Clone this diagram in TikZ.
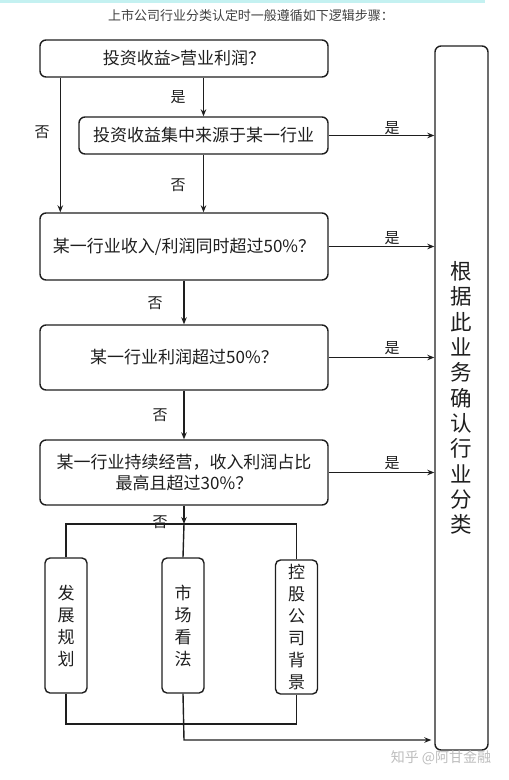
\documentclass[tikz,border=0pt]{standalone}
\usepackage{fontspec}
\setmainfont{Noto Sans CJK SC}
\usetikzlibrary{arrows.meta,positioning}
\definecolor{ink}{HTML}{1E1E1E}
\definecolor{stripe}{HTML}{C4F1F1}
\definecolor{mark}{HTML}{BDBDBD}
\tikzset{
  caption/.style={font=\fontsize{13}{15}\selectfont,text=ink!85},
  stepbox/.style={draw=ink,rounded corners=6pt,line width=1.4pt,font=\fontsize{17}{21}\selectfont,text=ink,align=center,inner sep=0pt},
  resultbox/.style={draw=ink,rounded corners=6pt,line width=1.4pt,font=\fontsize{21.5}{25.3}\selectfont,text=ink,align=center,inner sep=0pt},
  factor/.style={draw=ink,rounded corners=5pt,line width=1.4pt,font=\fontsize{17}{22}\selectfont,text=ink,align=center,inner sep=0pt,minimum width=42pt},
  yesno/.style={font=\fontsize{15}{17}\selectfont,text=ink},
  line/.style={draw=ink,line width=1.4pt},
  arr/.style={-{Stealth[length=7pt,width=5.5pt]},draw=ink,line width=1.4pt}
}
\begin{document}
\begin{tikzpicture}[x=1pt,y=-1pt]
\path[use as bounding box] (0,0) rectangle (509,780);
\fill[stripe] (0,0) rectangle (485,3);
\node[caption] (cap) at (251,16) {上市公司行业分类认定时一般遵循如下逻辑步骤：};
\node[stepbox,minimum width=288pt,minimum height=37pt] (invest) at (184,58.5) {投资收益>营业利润？};
\node[stepbox,minimum width=249pt,minimum height=37pt] (source) at (203.5,135.5) {投资收益集中来源于某一行业};
\node[stepbox,minimum width=288pt,minimum height=67pt] (both) at (184,246.5) {某一行业收入/利润同时超过50\%？};
\node[stepbox,minimum width=288pt,minimum height=65pt] (profit) at (184,357.5) {某一行业利润超过50\%？};
\node[stepbox,minimum width=288pt,minimum height=65pt] (steady) at (184,472.5) {某一行业持续经营，收入利润占比\\最高且超过30\%？};
\node[resultbox,minimum width=53pt,minimum height=704pt] (result) at (461.5,398) {根\\据\\此\\业\\务\\确\\认\\行\\业\\分\\类};
\node[factor,minimum height=135pt] (plan) at (66,625.5) {发\\展\\规\\划};
\node[factor,minimum height=135pt] (market) at (183,625.5) {市\\场\\看\\法};
\node[factor,minimum height=134pt] (parent) at (296.5,627) {控\\股\\公\\司\\背\\景};
\coordinate (split) at (184,524);
\coordinate (merge) at (184,724);
\coordinate (out) at (184,740);
\draw[arr] (invest.south -| source.north) -- (source.north);
\draw[arr] ([xshift=21pt]invest.south west) -- ([xshift=21pt]invest.south west |- both.north);
\draw[arr] (source.south) -- (source.south |- both.north);
\draw[arr] (source.east) -- (source.east -| result.west);
\draw[arr] (both.east) -- (both.east -| result.west);
\draw[arr] (profit.east) -- (profit.east -| result.west);
\draw[arr] (steady.east) -- (steady.east -| result.west);
\draw[arr] (both.south) -- (profit.north);
\draw[arr] (profit.south) -- (steady.north);
\draw[arr] (steady.south) -- (split);
\draw[line] (plan.north) |- (split) -| (parent.north);
\draw[line] (split) -- (market.north);
\draw[line] (plan.south) |- (merge) -| (parent.south);
\draw[arr] (market.south) -- (out) -- ([xshift=-3pt]out -| result.west);
\node[yesno] at (178,97) {是};
\node[yesno] at (42,132) {否};
\node[yesno] at (178,185) {否};
\node[yesno] at (392,128) {是};
\node[yesno] at (392,238) {是};
\node[yesno] at (392,348) {是};
\node[yesno] at (392,463) {是};
\node[yesno] at (155,303) {否};
\node[yesno] at (160,415) {否};
\node[yesno] at (160,522) {否};
\node[font=\fontsize{14}{16}\selectfont,text=mark] (wm) at (441,758) {知乎 @阿甘金融};
\end{tikzpicture}
\end{document}
